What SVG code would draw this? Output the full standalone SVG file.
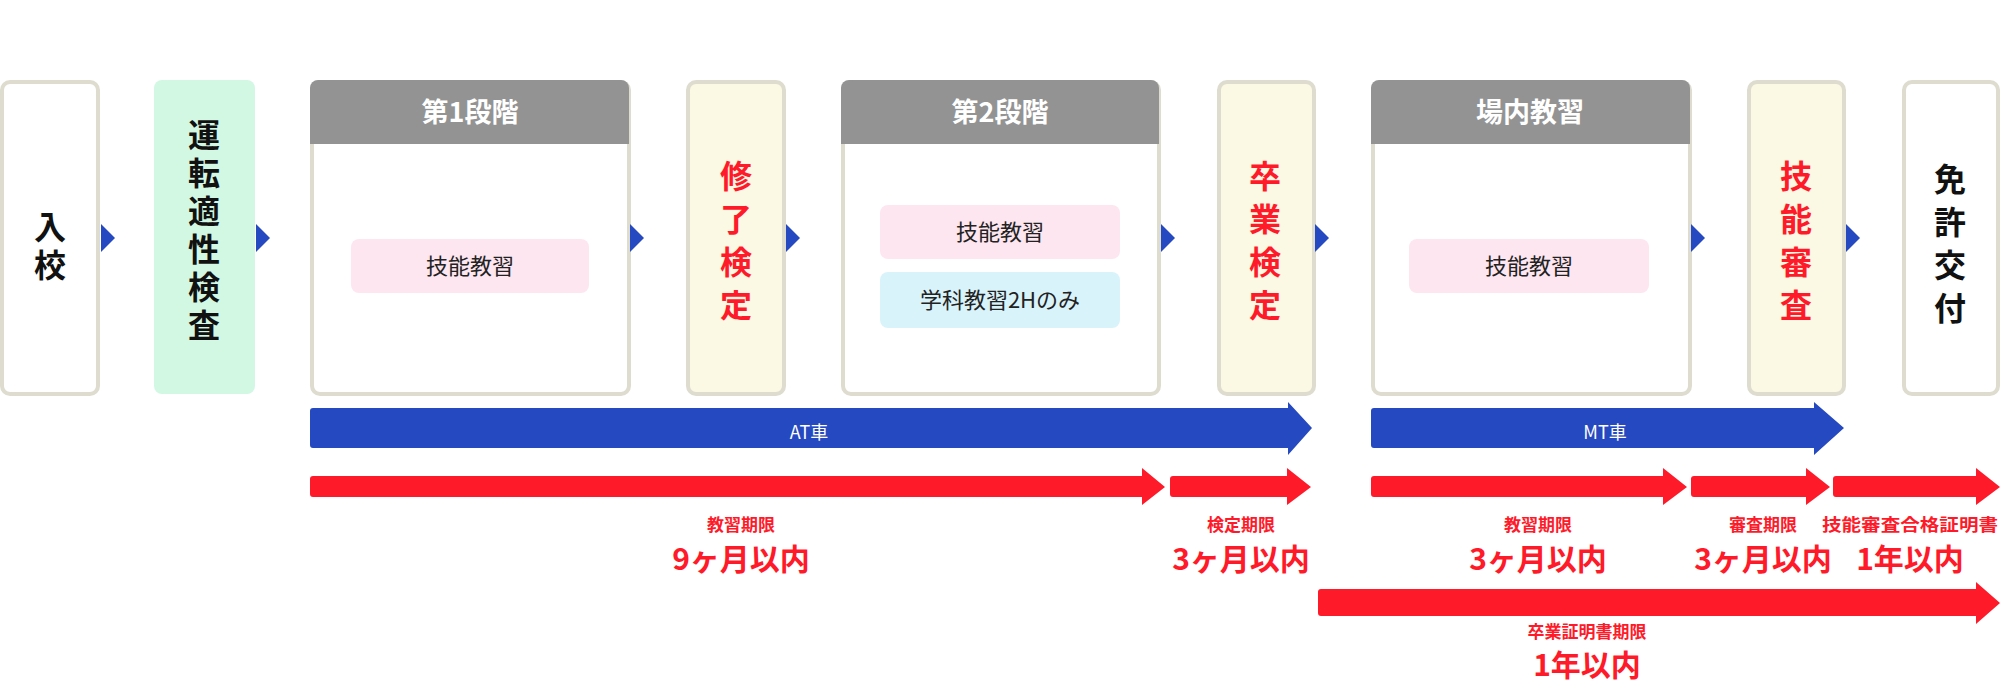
<svg xmlns="http://www.w3.org/2000/svg" width="2000" height="696" viewBox="0 0 2000 696">
<style>
text{font-family:"Noto Sans CJK JP","Noto Sans",sans-serif;text-anchor:middle;font-weight:bold}
.box{fill:#fff;stroke:#dedccf;stroke-width:4}
.beige{fill:#fbf8e4;stroke:#dedccf;stroke-width:4}
.hdr{fill:#939393}
.ht{fill:#fff;font-size:27px}
.v{font-size:32px;fill:#111;writing-mode:vertical-rl;letter-spacing:6px}
.vr{font-size:32px;fill:#ff1a2a;writing-mode:vertical-rl;letter-spacing:11px}
.in{font-size:22px;fill:#222;font-weight:normal}
.tri{fill:#2549c0}
.blue{fill:#2549c0}
.red{fill:#ff1a2a}
.bl{fill:#fff;font-size:18px;font-weight:normal}
.sl{fill:#ff1a2a;font-size:17px}
.bg{fill:#ff1a2a;font-size:30px}
</style>
<g id="n1"><rect class="box" x="2" y="82" width="96" height="312" rx="8"/><text class="v" x="50" y="249">入校</text></g>
<g id="n2"><rect x="154" y="80" width="101" height="314" rx="8" fill="#d2f8e4"/>
<text class="v" x="204" y="233">運転適性検査</text></g>
<g id="n3"><rect class="box" x="312" y="82" width="317" height="312" rx="8"/><path class="hdr" d="M310 144V88a8 8 0 0 1 8-8h303a8 8 0 0 1 8 8v56z"/><text class="ht" x="470" y="122">第1段階</text>
<rect x="351" y="239" width="238" height="54" rx="8" fill="#fde6f0"/><text class="in" x="470" y="274">技能教習</text></g>
<g id="n4"><rect class="beige" x="688" y="82" width="96" height="312" rx="8"/><text class="vr" x="736" y="246">修了検定</text></g>
<g id="n5"><rect class="box" x="843" y="82" width="316" height="312" rx="8"/><path class="hdr" d="M841 144V88a8 8 0 0 1 8-8h302a8 8 0 0 1 8 8v56z"/><text class="ht" x="1000" y="122">第2段階</text>
<rect x="880" y="205" width="240" height="54" rx="8" fill="#fde6f0"/><text class="in" x="1000" y="240">技能教習</text>
<rect x="880" y="272" width="240" height="56" rx="8" fill="#d9f3fb"/><text class="in" x="1000" y="308">学科教習2Hのみ</text></g>
<g id="n6"><rect class="beige" x="1219" y="82" width="95" height="312" rx="8"/><text class="vr" x="1265" y="246">卒業検定</text></g>
<g id="n7"><rect class="box" x="1373" y="82" width="317" height="312" rx="8"/><path class="hdr" d="M1371 144V88a8 8 0 0 1 8-8h303a8 8 0 0 1 8 8v56z"/><text class="ht" x="1530" y="122">場内教習</text>
<rect x="1409" y="239" width="240" height="54" rx="8" fill="#fde6f0"/><text class="in" x="1529" y="274">技能教習</text></g>
<g id="n8"><rect class="beige" x="1749" y="82" width="95" height="312" rx="8"/><text class="vr" x="1796" y="246">技能審査</text></g>
<g id="n9"><rect class="box" x="1904" y="82" width="94" height="312" rx="8"/><text class="vr" style="fill:#111" x="1950" y="249">免許交付</text></g>
<g id="connectors">
<path class="tri" d="M101 224L115 238L101 252z"/>
<path class="tri" d="M256 224L270 238L256 252z"/>
<path class="tri" d="M630 224L644 238L630 252z"/>
<path class="tri" d="M786 224L800 238L786 252z"/>
<path class="tri" d="M1161 224L1175 238L1161 252z"/>
<path class="tri" d="M1315 224L1329 238L1315 252z"/>
<path class="tri" d="M1691 224L1705 238L1691 252z"/>
<path class="tri" d="M1846 224L1860 238L1846 252z"/>
<path class="blue" d="M313 408H1288V402L1312 428L1288 455V448H313a3 3 0 0 1-3-3V411a3 3 0 0 1 3-3z"/>
<text class="bl" x="809" y="434" dominant-baseline="middle">AT車</text>
<path class="blue" d="M1374 408H1814V402L1844 428L1814 455V448H1374a3 3 0 0 1-3-3V411a3 3 0 0 1 3-3z"/>
<text class="bl" x="1605" y="434" dominant-baseline="middle">MT車</text>
<path class="red" d="M313 476H1142V468L1165 487L1142 505V497H313a3 3 0 0 1-3-3V479a3 3 0 0 1 3-3z"/>
<path class="red" d="M1173 476H1287V468L1311 487L1287 505V497H1173a3 3 0 0 1-3-3V479a3 3 0 0 1 3-3z"/>
<path class="red" d="M1374 476H1663V468L1687 487L1663 505V497H1374a3 3 0 0 1-3-3V479a3 3 0 0 1 3-3z"/>
<path class="red" d="M1694 476H1806V468L1830 487L1806 505V497H1694a3 3 0 0 1-3-3V479a3 3 0 0 1 3-3z"/>
<path class="red" d="M1836 476H1976V468L2000 487L1976 505V497H1836a3 3 0 0 1-3-3V479a3 3 0 0 1 3-3z"/>
<path class="red" d="M1321 589H1976V582L2000 603L1976 624V616H1321a3 3 0 0 1-3-3V592a3 3 0 0 1 3-3z"/>
</g>
<g id="labels">
<text class="sl" x="741" y="531">教習期限</text><text class="bg" x="741" y="570">9ヶ月以内</text>
<text class="sl" x="1241" y="531">検定期限</text><text class="bg" x="1241" y="570">3ヶ月以内</text>
<text class="sl" x="1538" y="531">教習期限</text><text class="bg" x="1538" y="570">3ヶ月以内</text>
<text class="sl" x="1763" y="531">審査期限</text><text class="bg" x="1763" y="570">3ヶ月以内</text>
<text class="sl" x="1910" y="531" textLength="176" lengthAdjust="spacingAndGlyphs">技能審査合格証明書</text><text class="bg" x="1910" y="570">1年以内</text>
<text class="sl" x="1587" y="638">卒業証明書期限</text><text class="bg" x="1587" y="676">1年以内</text>
</g>
</svg>
